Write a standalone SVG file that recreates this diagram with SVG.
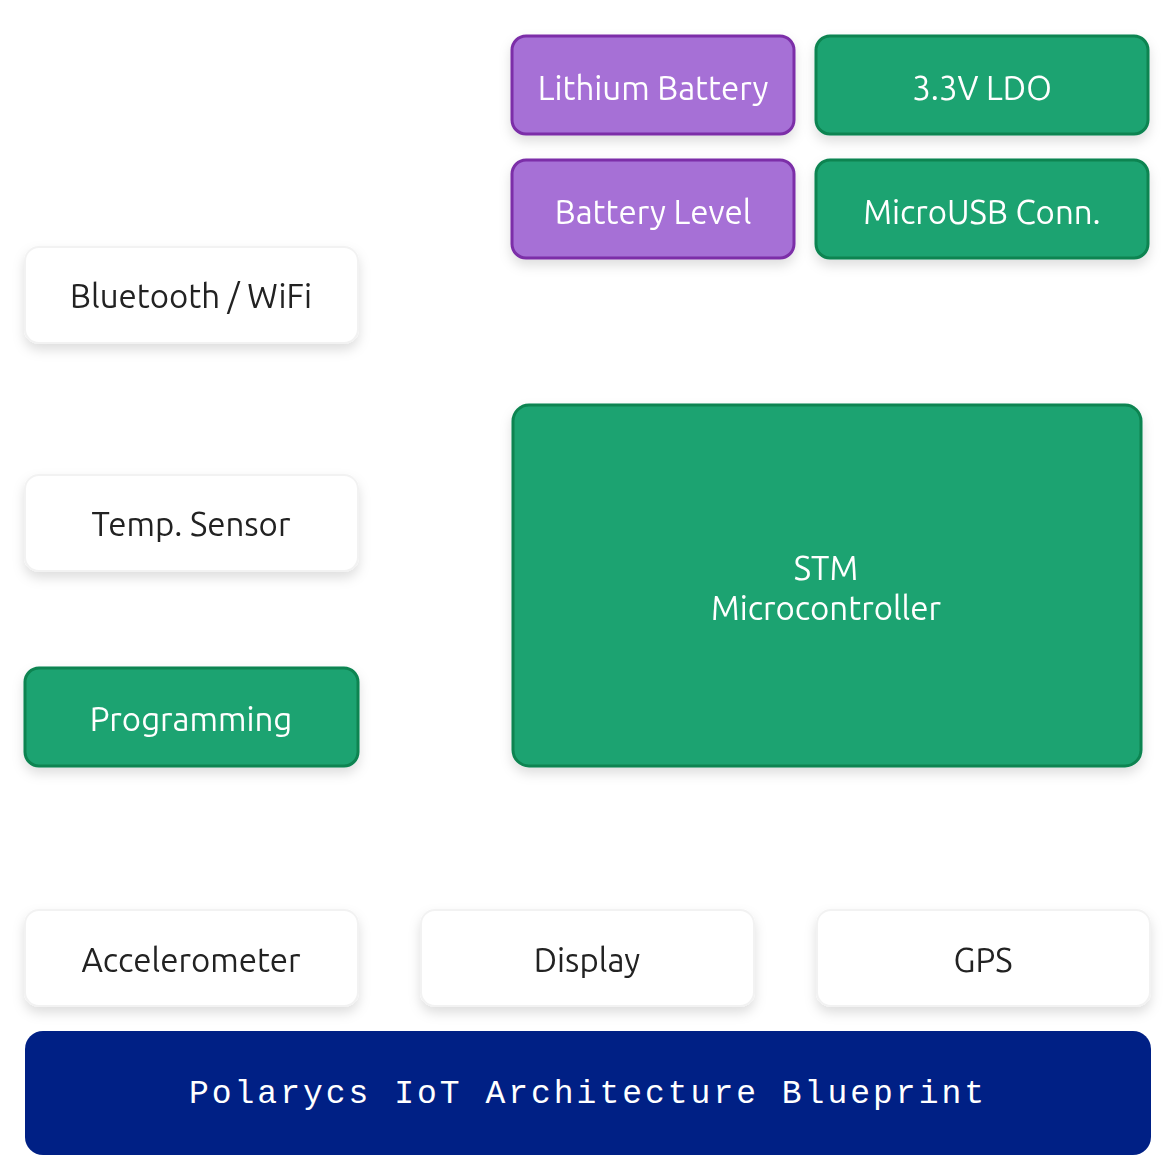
<svg xmlns="http://www.w3.org/2000/svg" width="1176" height="1176" viewBox="0 0 1176 1176">
<defs>
<filter id="sh" x="-20%" y="-20%" width="140%" height="150%"><feDropShadow dx="0" dy="6" stdDeviation="6" flood-color="#000" flood-opacity="0.13"/></filter>
<style>
.n{filter:url(#sh)}
.w{fill:#fff;stroke:#f2f2f2;stroke-width:2}
.g{fill:#1fa371;stroke:#0a8451;stroke-width:3}
.p{fill:#a66fd6;stroke:#7b2fa8;stroke-width:3}
.t{font-family:"Ubuntu","Noto Sans",sans-serif;font-size:33px;text-anchor:middle;dominant-baseline:central}
.dk{fill:#222}
.lt{fill:#fff}
.c{stroke:#fff;stroke-width:2;fill:none}
.cl{font-family:"Noto Sans",sans-serif;font-size:22px;fill:#fff;text-anchor:middle;dominant-baseline:central}
</style>
</defs>
<rect width="1176" height="1176" fill="#fff"/>
<g id="connectors">
<path class="c" d="M358 308 H460 L515 400"/>
<path class="c" d="M648 258 V405"/>
<path class="c" d="M981 258 V405"/>
<path class="c" d="M358 521 H513"/>
<path class="c" d="M358 717 H513"/>
<path class="c" d="M510 770 L375 905"/>
<path class="c" d="M588 766 V910"/>
<path class="c" d="M981 766 V910"/>
<text class="cl" x="420" y="265">UART</text>
<text class="cl" x="420" y="490">I2C</text>
<text class="cl" x="420" y="688">SWD</text>
<text class="cl" x="150" y="833">I2C</text>
<text class="cl" x="645" y="833">SPI</text>
<text class="cl" x="1040" y="833">UART</text>
<text class="cl" x="700" y="337">I2C</text>
<text class="cl" x="1035" y="337">USB</text>
</g>
<g id="lithium" class="n"><rect class="p" x="512" y="36" width="282" height="98" rx="14"/><text class="t lt" x="653" y="87">Lithium Battery</text></g>
<g id="ldo" class="n"><rect class="g" x="816" y="36" width="332" height="98" rx="14"/><text class="t lt" x="982" y="87">3.3V LDO</text></g>
<g id="battlevel" class="n"><rect class="p" x="512" y="160" width="282" height="98" rx="14"/><text class="t lt" x="653" y="211">Battery Level</text></g>
<g id="usb" class="n"><rect class="g" x="816" y="160" width="332" height="98" rx="14"/><text class="t lt" x="982" y="211">MicroUSB Conn.</text></g>
<g id="bt" class="n"><rect class="w" x="25" y="247" width="333" height="96" rx="14"/><text class="t dk" x="191" y="295">Bluetooth / WiFi</text></g>
<g id="temp" class="n"><rect class="w" x="25" y="475" width="333" height="96" rx="14"/><text class="t dk" x="191" y="523">Temp. Sensor</text></g>
<g id="prog" class="n"><rect class="g" x="25" y="668" width="333" height="98" rx="14"/><text class="t lt" x="191" y="718">Programming</text></g>
<g id="stm" class="n"><rect class="g" x="513" y="405" width="628" height="361" rx="16"/><text class="t lt" x="826" y="567">STM</text><text class="t lt" x="826" y="607">Microcontroller</text></g>
<g id="accel" class="n"><rect class="w" x="25" y="910" width="333" height="96" rx="14"/><text class="t dk" x="191" y="959">Accelerometer</text></g>
<g id="display" class="n"><rect class="w" x="421" y="910" width="333" height="96" rx="14"/><text class="t dk" x="587" y="959">Display</text></g>
<g id="gps" class="n"><rect class="w" x="817" y="910" width="333" height="96" rx="14"/><text class="t dk" x="983" y="959">GPS</text></g>
<g id="title"><rect x="25" y="1031" width="1126" height="124" rx="18" fill="#002085"/><text x="588" y="1094" fill="#fff" font-family="'Liberation Mono','DejaVu Sans Mono',monospace" font-size="33" text-anchor="middle" dominant-baseline="central" letter-spacing="3">Polarycs IoT Architecture Blueprint</text></g>
</svg>
